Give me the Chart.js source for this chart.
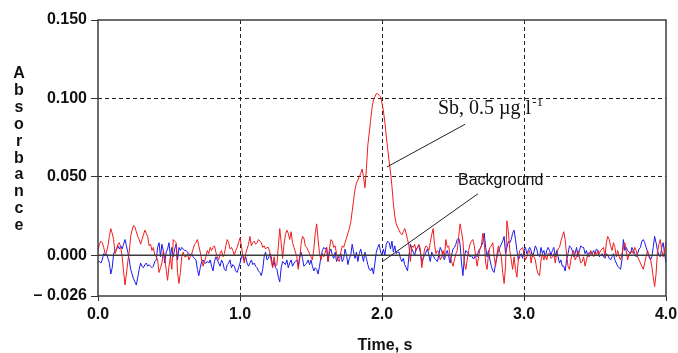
<!DOCTYPE html>
<html>
<head>
<meta charset="utf-8">
<script src="https://cdn.jsdelivr.net/npm/chart.js@4.4.1/dist/chart.umd.min.js"></script>
<style>
html,body{margin:0;padding:0;background:#fff;}
#wrap{width:678px;height:353px;}
</style>
</head>
<body>
<div id="wrap"><canvas id="absChart"></canvas></div>
<script>
// traces, milli-absorbance, one value every 10 ms from 0.0 s
const sbSignal = [
3,7,9,8,5,1,2,6,12,17,
14,10,1,3,7,8,5,-1,-10,-19,
-12,-4,2,12,16,19,18,15,12,10,
7,10,13,16,14,12,6,7,3,5,
0,-1,-3,-11,-8,-5,3,-2,-9,-16,
-7,-1,-9,10,9,8,-11,-18,-11,-1,
2,-1,-1,1,-3,-1,1,4,7,8,
10,6,2,-3,-7,-4,-1,3,1,5,
3,5,6,2,-1,-3,1,3,-1,1,
6,10,8,4,5,3,0,3,5,8,
11,6,-1,-5,1,4,7,12,6,8,
9,7,8,10,9,8,5,6,4,5,
5,2,-4,-8,-1,-7,-6,6,17,8,
-2,7,13,16,14,10,15,8,5,2,
-1,-9,-3,7,12,11,6,5,3,1,
-1,-3,4,14,20,10,1,-3,1,-1,
2,5,-4,4,10,9,5,6,1,-3,
-4,2,6,5,8,11,14,17,21,28,
35,42,46,48,50,52,55,50,43,55,
70,78,86,94,99,101,103,103,102,101,
97,92,85,76,68,60,53,44,33,25,
20,18,16,14,13,15,17,14,10,6,
-4,6,5,7,3,5,7,4,-8,-2,
4,6,5,3,8,13,17,7,1,3,
2,-3,-1,3,-1,10,5,6,-1,-4,
-7,-3,1,3,12,20,15,9,-5,-9,
-3,3,7,9,10,6,-1,-7,-1,4,
6,14,8,-5,-9,1,5,6,8,-1,
-7,1,6,2,-1,-11,-18,-7,22,15,
3,-3,-9,-1,-9,-14,-3,3,4,5,
1,-3,-1,2,3,-5,1,-1,-3,-9,
-12,-13,-3,1,-3,0,-3,1,1,-2,
-1,1,-5,1,4,5,9,12,15,10,
0,-7,-9,-3,1,3,-3,-1,3,-1,
-5,-4,-1,-7,-3,1,-1,3,1,-1,
2,0,3,1,3,4,5,-1,8,12,
10,6,3,8,5,-1,3,-1,-3,1,
5,8,3,-3,1,1,3,1,5,3,
-1,-3,-5,-7,-9,-5,-1,3,0,-2,
-7,-14,-20,-12,2,7,10,3,-1,3,
9];

const background = [
-4,-4,-5,-3,1,0,1,-2,-5,-12,
-8,1,3,4,6,4,6,4,7,10,
6,2,-3,-9,-12,-15,-17,-19,-14,-9,
-5,-7,-8,-6,-5,-7,-6,-7,-8,-7,
-4,-3,5,8,-1,7,3,-5,2,4,
8,-1,5,-1,4,7,-3,5,3,5,
4,3,3,2,1,0,1,-1,-2,-3,
-9,-13,-8,-4,-3,-5,-5,-4,-5,-3,
-7,-10,-4,-1,-3,-5,-7,-3,-5,-9,
-10,-6,-5,-3,-8,-6,-7,-10,-11,-8,
-5,-1,0,-3,-1,-5,-7,-5,-3,-6,
-5,-7,-8,-10,-11,-13,-9,-1,2,-3,
-2,1,-1,-7,-4,-8,-9,-14,-17,-8,
-4,-5,-6,-3,-8,-5,-3,-7,-5,-4,
-3,-7,-1,2,-2,-7,-6,-5,-3,-6,
-3,-7,-10,-8,-9,-12,-7,-1,3,5,
4,5,-4,2,4,0,-2,2,-4,-2,
0,1,-4,-2,4,0,-6,-2,0,7,
2,-2,2,-4,1,4,0,-4,2,-2,
-6,-9,-10,-8,-12,-5,2,5,7,2,
0,4,0,7,9,8,4,9,2,6,
1,2,2,-2,-4,-2,-6,-8,-10,0,
7,4,2,0,4,5,6,2,-4,-2,
0,2,4,0,-4,2,0,-2,-3,-4,
0,5,3,-1,-3,1,3,-1,-5,0,
4,5,7,10,11,7,-5,-13,-1,3,
2,1,-1,0,-2,-2,1,-1,3,4,
6,8,14,5,-1,3,-3,-7,-10,-11,
-5,-1,3,5,7,9,12,1,5,9,
8,10,14,16,10,3,-3,-1,1,-2,
3,5,1,3,5,3,-1,2,6,4,
0,-1,5,1,3,-1,3,5,3,0,
3,5,-1,3,-1,-5,-3,-7,-7,-10,
-3,1,6,5,3,-1,1,5,-1,3,
6,5,5,1,3,-1,2,1,1,3,
1,4,3,-1,0,1,-1,-2,1,0,
-2,-3,-1,1,-3,-5,-7,-8,-9,-3,
10,3,5,3,2,1,5,3,1,-1,
1,4,5,9,10,8,5,2,-1,-3,
-1,5,12,8,3,0,-1,5,8,1,
-5];

const timeStep = 0.01;
const xTicks = [0, 1, 2, 3, 4];
const yTicks = [-0.026, 0, 0.05, 0.1, 0.15];
const yTickLabels = ['\u2013 0.026', '0.000', '0.050', '0.100', '0.150'];
const xTitle = 'Time, s';
const yTitle = 'Absorbance';

// callouts, anchored in data units: [text x, text y, line from x, y, line to x, y]
const sbNote = {text: 'Sb, 0.5 \u00b5g l', sup: '-1', at: [2.394, 0.0899], line: [2.585, 0.0835, 2.035, 0.0563]};
const bgNote = {text: 'Background', at: [2.535, 0.0449], line: [2.676, 0.0392, 2.007, -0.0038]};

const toPoints = arr => arr.map((v, i) => ({x: +(i * timeStep).toFixed(2), y: v / 1000}));

const sans = "'Liberation Sans', Arial, sans-serif";

const frame = {
  id: 'frame',
  afterDatasetsDraw(chart) {
    const {ctx, chartArea: a, scales: {x, y}} = chart;
    ctx.save();
    ctx.strokeStyle = '#3c3c3c';
    ctx.lineWidth = 1.5;
    const y0 = y.getPixelForValue(0);
    ctx.beginPath();
    ctx.moveTo(a.left, y0);
    ctx.lineTo(a.right, y0);
    ctx.stroke();
    ctx.strokeRect(a.left, a.top, a.right - a.left, a.bottom - a.top);

    // leader lines
    ctx.strokeStyle = '#222';
    ctx.lineWidth = 1;
    [sbNote, bgNote].forEach(n => {
      ctx.beginPath();
      ctx.moveTo(x.getPixelForValue(n.line[0]), y.getPixelForValue(n.line[1]));
      ctx.lineTo(x.getPixelForValue(n.line[2]), y.getPixelForValue(n.line[3]));
      ctx.stroke();
    });

    ctx.fillStyle = '#111';
    ctx.textAlign = 'left';
    ctx.textBaseline = 'alphabetic';
    ctx.font = "20px 'Liberation Serif', 'Times New Roman', serif";
    let tx = x.getPixelForValue(sbNote.at[0]), ty = y.getPixelForValue(sbNote.at[1]);
    ctx.fillText(sbNote.text, tx, ty);
    const w = ctx.measureText(sbNote.text).width;
    ctx.font = "13px 'Liberation Serif', 'Times New Roman', serif";
    ctx.fillText(sbNote.sup, tx + w + 1, ty - 8);

    ctx.font = '16px ' + sans;
    ctx.fillText(bgNote.text, x.getPixelForValue(bgNote.at[0]), y.getPixelForValue(bgNote.at[1]));
    ctx.restore();
  },
  afterDraw(chart) {
    const {ctx, chartArea: a} = chart;
    ctx.save();
    ctx.fillStyle = '#111';
    ctx.font = 'bold 16px ' + sans;
    ctx.textAlign = 'center';
    ctx.textBaseline = 'alphabetic';
    ctx.fillText(xTitle, (a.left + a.right) / 2 + 3, 350);
    yTitle.split('').forEach((ch, i) => ctx.fillText(ch, 19, 78 + i * 16.9));
    ctx.restore();
  }
};

new Chart(document.getElementById('absChart'), {
  type: 'line',
  data: {
    datasets: [{
      label: 'Sb, 0.5 \u00b5g l-1',
      data: toPoints(sbSignal),
      borderColor: '#f01c1c',
      borderWidth: 1,
      pointRadius: 0,
      tension: 0
    }, {
      label: 'Background',
      data: toPoints(background),
      borderColor: '#1a1aee',
      borderWidth: 1,
      pointRadius: 0,
      tension: 0
    }]
  },
  options: {
    responsive: true,
    maintainAspectRatio: false,
    animation: false,
    layout: {padding: {top: 20, right: 12, left: 0, bottom: 0}},
    plugins: {legend: {display: false}, tooltip: {enabled: false}},
    scales: {
      x: {
        type: 'linear',
        min: 0,
        max: 4,
        afterBuildTicks: s => { s.ticks = xTicks.map(v => ({value: v})); },
        afterFit: s => { s.height = 57; s.paddingLeft = 0; s.paddingRight = 0; },
        ticks: {
          callback: v => v.toFixed(1),
          color: '#111',
          padding: 4,
          maxRotation: 0,
          font: {family: sans, size: 16, weight: 'bold'}
        },
        grid: {
          color: c => (c.index === 0 || c.index === xTicks.length - 1) ? 'rgba(0,0,0,0)' : '#222',
          lineWidth: 1,
          tickColor: '#333',
          tickLength: 5,
          tickBorderDash: []
        },
        border: {display: false, dash: [4, 3]}
      },
      y: {
        min: -0.026,
        max: 0.15,
        afterBuildTicks: s => { s.ticks = yTicks.map(v => ({value: v})); },
        afterFit: s => { s.width = 98; s.paddingTop = 0; s.paddingBottom = 0; },
        ticks: {
          callback: (v, i) => yTickLabels[i],
          color: '#111',
          padding: 4,
          font: {family: sans, size: 16, weight: 'bold'}
        },
        grid: {
          color: c => (c.index === 0 || c.index === 1 || c.index === yTicks.length - 1) ? 'rgba(0,0,0,0)' : '#222',
          lineWidth: 1,
          tickColor: '#333',
          tickLength: 7,
          tickBorderDash: []
        },
        border: {display: false, dash: [4, 3]}
      }
    }
  },
  plugins: [frame]
});
</script>
</body>
</html>
